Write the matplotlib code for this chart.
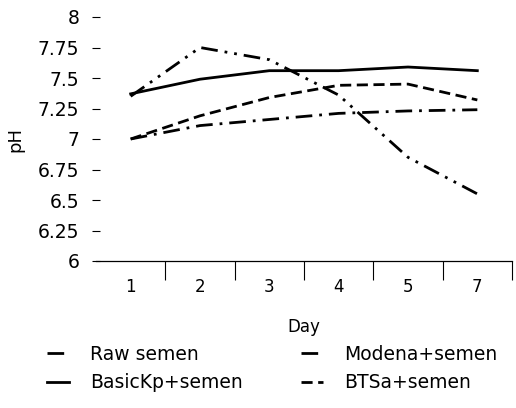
import numpy as np
import matplotlib.pyplot as plt

days = ['1', '2', '3', '4', '5', '7']
raw_semen = [7.35, 7.75, 7.65, 7.36, 6.85, 6.55]
modena_semen = [7.0, 7.11, 7.16, 7.21, 7.23, 7.24]
basickp_semen = [7.37, 7.49, 7.56, 7.56, 7.59, 7.56]
btsa_semen = [7.0, 7.19, 7.34, 7.44, 7.45, 7.32]
yticks = [6, 6.25, 6.5, 6.75, 7, 7.25, 7.5, 7.75, 8]

plt.rcParams['font.family'] = ['DejaVu Sans']

fig = plt.figure(figsize=(5.16, 4.08), dpi=100)
ax = fig.add_axes([96 / 516, 1 - 261 / 408, 416 / 516, 244 / 408])

x = np.arange(len(days))
l_raw, = ax.plot(x, raw_semen, color='black', lw=2, ls=(0, (6, 2.5, 1, 2.5, 1, 2.5)), label='Raw semen')
l_mod, = ax.plot(x, modena_semen, color='black', lw=2, ls=(0, (6, 2.5, 1, 2.5)), label='Modena+semen')
l_bas, = ax.plot(x, basickp_semen, color='black', lw=2, ls='-', label='BasicKp+semen')
l_bts, = ax.plot(x, btsa_semen, color='black', lw=2, ls=(0, (4, 2)), label='BTSa+semen')

ax.set_xlim(-0.5, len(days) - 0.5)
ax.set_ylim(6, 8)
ax.set_yticks(yticks)
ax.set_yticklabels([f'{v:g}' for v in yticks], fontsize=13.5)
ax.set_xticks(x)
ax.set_xticklabels(days, fontsize=12)
ax.set_xticks(np.arange(0.5, len(days), 1), minor=True)
ax.tick_params(axis='x', which='major', length=0, pad=12)
ax.tick_params(axis='x', which='minor', length=14, direction='out', width=0.8)
ax.tick_params(axis='y', length=6, direction='inout', width=0.8, pad=9)

for s in ['top', 'right', 'left']:
    ax.spines[s].set_visible(False)
ax.spines['bottom'].set_linewidth(0.9)

ax.set_xlabel('Day', fontsize=12, labelpad=16)
ax.set_ylabel('pH', fontsize=13, labelpad=10)

fig.legend([l_raw, l_bas, l_mod, l_bts],
           ['Raw semen', 'BasicKp+semen', 'Modena+semen', 'BTSa+semen'],
           ncol=2, loc='upper left', bbox_to_anchor=(30 / 516, 1 - 328 / 408),
           frameon=False, fontsize=13.5, handlelength=1.2, columnspacing=3.1,
           labelspacing=0.5, handletextpad=1.1)

fig.savefig('out.png', dpi=100)
